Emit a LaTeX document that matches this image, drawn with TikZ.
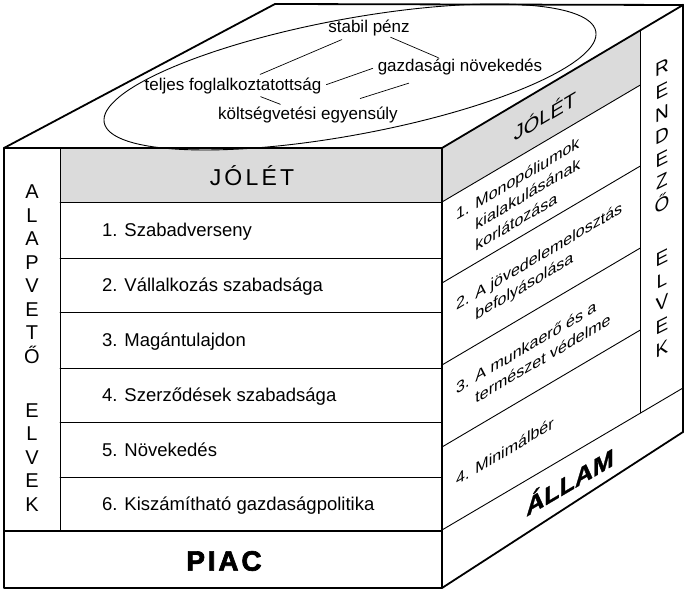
\documentclass[tikz,border=0pt]{standalone}
\usepackage{fontspec}
\setmainfont{Liberation Sans}
\newfontfamily\widefont[LetterSpace=14]{Liberation Sans}
\newfontfamily\piacfont[LetterSpace=10,BoldFeatures={FakeBold=2.5}]{Liberation Sans}
\newfontfamily\allamfont[BoldFeatures={FakeBold=1.2}]{Liberation Sans}
\definecolor{bandgray}{gray}{0.86}
\begin{document}
\begin{tikzpicture}[x=1pt,y=-1pt,line join=round,line cap=round,
	outer/.style={line width=1.8pt},
	inner/.style={line width=0.9pt},
	link/.style={line width=0.7pt},
	item/.style={anchor=west,inner sep=0pt,text height=13.5pt,text depth=4pt,font=\fontsize{18.5}{20}\selectfont},
	topic/.style={inner sep=1pt,text height=12.5pt,text depth=3.6pt,font=\fontsize{17}{19}\selectfont},
	sideitem/.style={yslant=0.59,anchor=west,inner sep=0pt,align=left,font=\fontsize{16}{21}\selectfont},
	letters/.style={anchor=north,inner sep=0pt,align=center,font=\fontsize{20}{23.5}\selectfont}]
	\useasboundingbox (0,0) rectangle (689,593);
	% bands
	\fill[bandgray] (60,148) rectangle (442,202);
	\fill[bandgray] (442,148) -- (640,30.6) -- (640,85.2) -- (442,202) -- cycle;
	% top face
	\draw[outer] (4,148) -- (275,4) -- (683,5);
	\draw[inner,rotate around={10.5:(350,77)}] (350,77) ellipse [x radius=250,y radius=58];
	% front face
	\draw[outer] (4,148) rectangle (442,588);
	\draw[inner] (60,148) -- (60,531);
	\foreach \y in {202,258,312,368,422,477} \draw[inner] (60,\y) -- (442,\y);
	\draw[outer] (4,531) -- (442,531);
	% right face
	\draw[outer] (442,148) -- (683,5);
	\draw[line width=2.6pt] (683,5) -- (683,432);
	\draw[outer] (683,432) -- (442,588);
	\draw[inner] (640,30.6) -- (640,413);
	\foreach \y in {202,283,365,447} \draw[inner] (442,\y) -- (640,{\y-116.8});
	\draw[inner] (442,530) -- (683,388);

	\node[topic] (sp) at (369,28) {stabil pénz};
	\node[topic] (gn) at (460,67) {gazdasági növekedés};
	\node[topic] (tf) at (233,86) {teljes foglalkoztatottság};
	\node[topic] (kv) at (308,115) {költségvetési egyensúly};
	\draw[link,shorten <=6pt,shorten >=6pt] (sp) -- (tf);
	\draw[link] (sp) -- (gn);
	\draw[link,shorten <=4pt,shorten >=4pt] (tf.east) -- (gn.west);
	\draw[link,shorten <=4pt,shorten >=4pt] (tf) -- (kv);
	\draw[link,shorten <=23pt,shorten >=24pt] (gn) -- (kv);

	\node[font=\widefont\fontsize{23}{25}\selectfont] (jf) at (252,176) {JÓLÉT};
	\node[item] (f1) at (102,232) {1. Szabadverseny};
	\node[item] (f2) at (102,287) {2. Vállalkozás szabadsága};
	\node[item] (f3) at (102,342) {3. Magántulajdon};
	\node[item] (f4) at (102,397) {4. Szerződések szabadsága};
	\node[item] (f5) at (102,452) {5. Növekedés};
	\node[item] (f6) at (102,506) {6. Kiszámítható gazdaságpolitika};
	\node[font=\piacfont\bfseries\fontsize{28}{30}\selectfont] (piac) at (224,561) {PIAC};
	\node[letters] (alap) at (32,185) {A\\L\\A\\P\\V\\E\\T\\Ő\\[30.5pt]E\\L\\V\\E\\K};

	\node[sideitem,anchor=center,font=\fontsize{20}{22}\selectfont] (jr) at (545,115) {JÓLÉT};
	\node[sideitem] (r1) at (456,236) {1. Monopóliumok\\\phantom{1. }kialakulásának\\\phantom{1. }korlátozása};
	\node[sideitem] (r2) at (456,317) {2. A jövedelemelosztás\\\phantom{2. }befolyásolása};
	\node[sideitem] (r3) at (456,399) {3. A munkaerő és a\\\phantom{3. }természet védelme};
	\node[sideitem] (r4) at (456,480) {4. Minimálbér};
	\node[sideitem,anchor=center,font=\allamfont\bfseries\fontsize{25}{27}\selectfont] (allam) at (570,480) {ÁLLAM};
	\node[letters,yslant=0.5,font=\fontsize{19}{22.7}\selectfont] (rend) at (662,61) {R\\E\\N\\D\\E\\Z\\Ő\\[31pt]E\\L\\V\\E\\K};
\end{tikzpicture}
\end{document}
